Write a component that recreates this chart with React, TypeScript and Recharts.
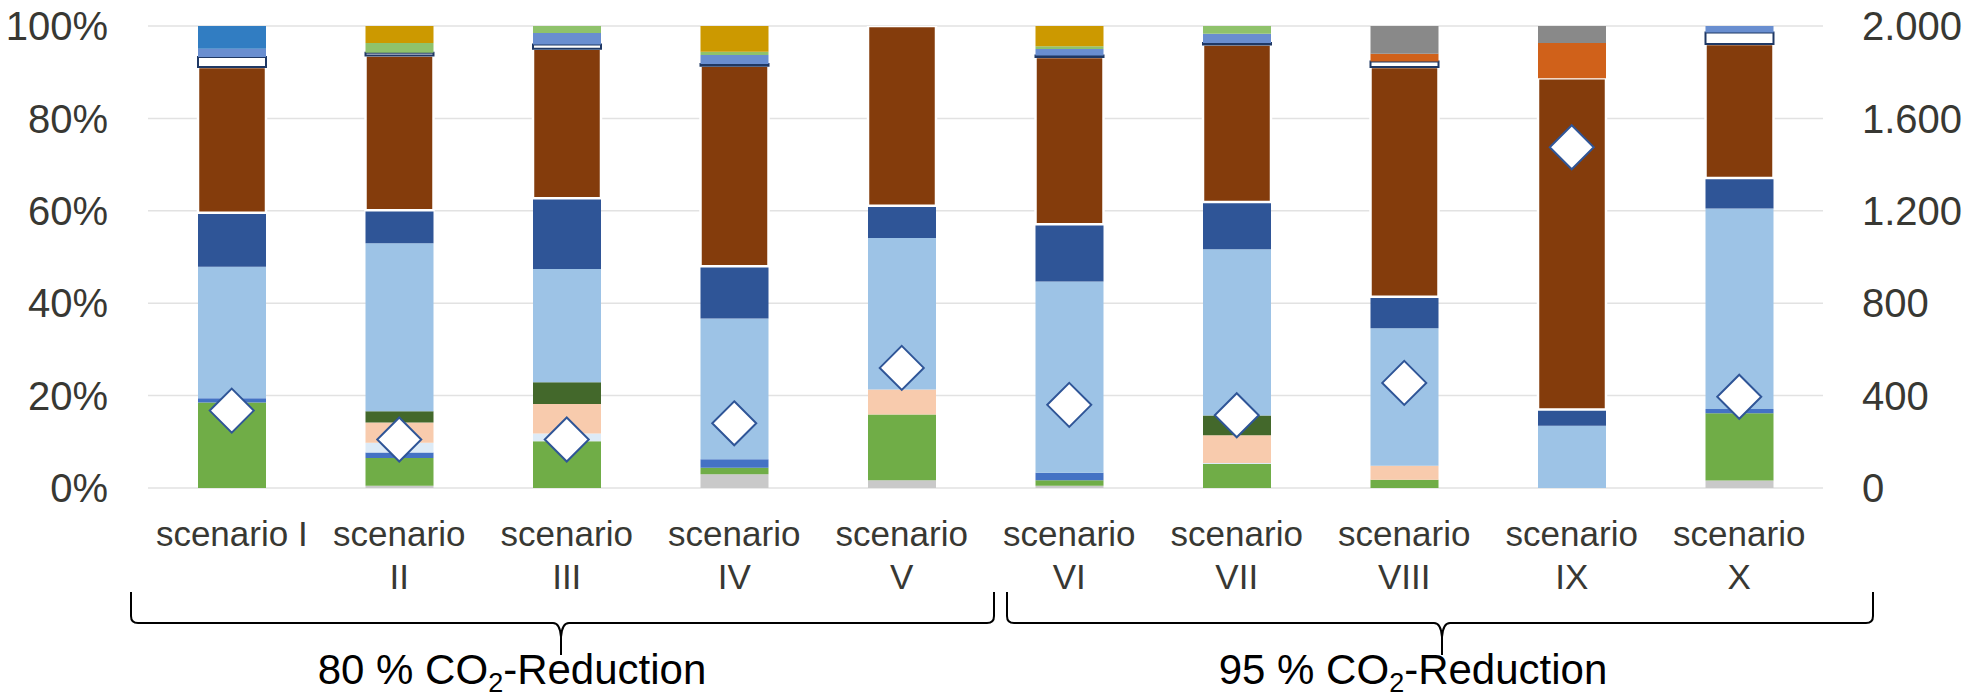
import React from 'react';
import { ComposedChart, Bar, Line, XAxis, YAxis, CartesianGrid } from 'recharts';

// Scenario names along the category axis
const scenarios = [
  'scenario I', 'scenario II', 'scenario III', 'scenario IV', 'scenario V',
  'scenario VI', 'scenario VII', 'scenario VIII', 'scenario IX', 'scenario X',
];

// Shares per scenario (percent of the stacked column), bottom to top
const greyShare = [0, 0.5, 0, 3.0, 1.7, 0.5, 0, 0, 0, 1.6];
const greenShare = [18.5, 6.0, 10.1, 1.4, 14.2, 1.2, 5.2, 1.8, 0, 14.6];
const blueShare = [0.9, 1.2, 0, 1.8, 0, 1.6, 0, 0, 0, 0.9];
const paleBlueShare = [0, 2.1, 1.7, 0, 0, 0, 0.2, 0, 0, 0];
const peachShare = [0, 4.4, 6.4, 0, 5.4, 0, 6.0, 3.0, 0, 0];
const darkGreenShare = [0, 2.4, 4.7, 0, 0, 0, 4.3, 0, 0, 0];
const lightBlueShare = [28.5, 36.4, 24.5, 30.5, 32.8, 41.4, 36.0, 29.8, 13.5, 43.4];
const navyShare = [11.7, 7.1, 15.3, 11.3, 7.0, 12.4, 10.2, 6.8, 3.5, 6.6];
const brownShare = [31.5, 33.5, 32.4, 43.4, 38.9, 36.2, 34.1, 49.7, 71.7, 29.0];
const whiteShare = [2.2, 0.6, 0.9, 0.4, 0, 0.3, 0.3, 1.2, 0, 2.5];
const midBlueShare = [1.8, 0, 2.5, 1.9, 0, 1.4, 2.0, 0, 0, 1.4];
const lightGreenShare = [0, 2.1, 1.5, 0.7, 0, 0.6, 1.7, 0, 0, 0];
const goldShare = [0, 3.7, 0, 5.6, 0, 4.4, 0, 0, 0, 0];
const orangeShare = [0, 0, 0, 0, 0, 0, 0, 1.7, 7.6, 0];
const darkGreyShare = [0, 0, 0, 0, 0, 0, 0, 6.0, 3.7, 0];
const brightBlueShare = [4.9, 0, 0, 0, 0, 0, 0, 0, 0, 0];

// Absolute totals shown as diamonds on the right axis
const totals = [335, 210, 210, 280, 520, 360, 315, 455, 1475, 395];

const leftTicks = [0, 20, 40, 60, 80, 100];
const rightTicks = [0, 400, 800, 1200, 1600, 2000];

const groups = [
  { label: '80 % CO', sub: '2', rest: '-Reduction' },
  { label: '95 % CO', sub: '2', rest: '-Reduction' },
];

const FONT = '"Liberation Sans", Arial, Helvetica, sans-serif';
const TEXT = '#383833';
const CAT_FONT_SIZE = 35;

const series = [
  { key: 'grey', values: greyShare, fill: '#C9C9C9' },
  { key: 'green', values: greenShare, fill: '#70AD47' },
  { key: 'blue', values: blueShare, fill: '#4472C4' },
  { key: 'paleBlue', values: paleBlueShare, fill: '#DDEBF7' },
  { key: 'peach', values: peachShare, fill: '#F8CBAD' },
  { key: 'darkGreen', values: darkGreenShare, fill: '#43682B' },
  { key: 'lightBlue', values: lightBlueShare, fill: '#9DC3E6' },
  { key: 'navy', values: navyShare, fill: '#2F5597' },
  { key: 'brown', values: brownShare, fill: '#843C0C', stroke: '#FFFFFF', strokeWidth: 2.5 },
  { key: 'white', values: whiteShare, fill: '#FFFFFF', stroke: '#1F3864', strokeWidth: 2 },
  { key: 'midBlue', values: midBlueShare, fill: '#698ED0' },
  { key: 'lightGreen', values: lightGreenShare, fill: '#8FC26B' },
  { key: 'gold', values: goldShare, fill: '#CC9900' },
  { key: 'orange', values: orangeShare, fill: '#D0611A' },
  { key: 'darkGrey', values: darkGreyShare, fill: '#898989' },
  { key: 'brightBlue', values: brightBlueShare, fill: '#317DC2' },
];

const rows = scenarios.map((name, i) => {
  const row: Record<string, any> = { name, total: totals[i] };
  series.forEach((s) => {
    row[s.key] = s.values[i];
  });
  return row;
});

const W = 1977;
const H = 700;
const LEFT_AXIS_W = 148;
const RIGHT_AXIS_W = 154;
const TOP = 26;
const X_AXIS_H = 212;
const PLOT_L = LEFT_AXIS_W;
const PLOT_R = W - RIGHT_AXIS_W;
const BAND = (PLOT_R - PLOT_L) / scenarios.length;
const LABEL_MAX_W = 158;

const formatThousands = (v: number) => String(v).replace(/\B(?=(\d{3})+(?!\d))/g, '.');

let measureCtx: CanvasRenderingContext2D | null = null;
const textWidth = (s: string) => {
  if (!measureCtx && typeof document !== 'undefined') {
    measureCtx = document.createElement('canvas').getContext('2d');
  }
  if (measureCtx) {
    measureCtx.font = `${CAT_FONT_SIZE}px ${FONT}`;
    return measureCtx.measureText(s).width;
  }
  return s.length * CAT_FONT_SIZE * 0.5;
};

// Greedy word wrap within the category band
const wrapLabel = (label: string) => {
  const words = label.split(' ');
  const lines: string[] = [];
  let cur = '';
  words.forEach((w) => {
    const next = cur ? `${cur} ${w}` : w;
    if (cur && textWidth(next) > LABEL_MAX_W) {
      lines.push(cur);
      cur = w;
    } else {
      cur = next;
    }
  });
  if (cur) lines.push(cur);
  return lines;
};

const CategoryTick = (props: any) => {
  const { x, y, payload } = props;
  const lines = wrapLabel(String(payload.value));
  return (
    <text
      x={x}
      y={y + 56}
      textAnchor="middle"
      fill={TEXT}
      fontSize={CAT_FONT_SIZE}
      fontFamily={FONT}
    >
      {lines.map((ln, i) => (
        <tspan key={i} x={x} dy={i === 0 ? 0 : 43}>
          {ln}
        </tspan>
      ))}
    </text>
  );
};

const Diamond = (props: any) => {
  const { cx, cy } = props;
  if (cx == null || cy == null) return null;
  const r = 22;
  return (
    <path
      key={`d-${cx}`}
      d={`M${cx},${cy - r}L${cx + r},${cy}L${cx},${cy + r}L${cx - r},${cy}Z`}
      fill="#FFFFFF"
      stroke="#2F5597"
      strokeWidth={2}
    />
  );
};

// Curly brace under a group of scenarios, tip pointing down
const bracePath = (x1: number, x2: number, xm: number) => {
  const y0 = 592;
  const y1 = 623;
  const tip = 655;
  const r = 7;
  return [
    `M${x1},${y0}`,
    `L${x1},${y1 - r}`,
    `Q${x1},${y1} ${x1 + r},${y1}`,
    `L${xm - 8},${y1}`,
    `Q${xm - 1},${y1} ${xm},${y1 + 14}`,
    `L${xm},${tip}`,
    `M${xm},${y1 + 14}`,
    `Q${xm + 1},${y1} ${xm + 8},${y1}`,
    `L${x2 - r},${y1}`,
    `Q${x2},${y1} ${x2},${y1 - r}`,
    `L${x2},${y0}`,
  ].join(' ');
};

const GroupBraces = () => {
  const specs = [
    { x1: PLOT_L - 17, x2: PLOT_L + 5 * BAND + 8.5, xm: 561, tx: 512 },
    { x1: PLOT_L + 5 * BAND + 21.5, x2: PLOT_R + 50, xm: 1442, tx: 1413 },
  ];
  return (
    <svg
      width={W}
      height={H}
      style={{ position: 'absolute', left: 0, top: 0, pointerEvents: 'none' }}
    >
      {groups.map((g, i) => {
        const s = specs[i];
        return (
          <g key={g.label + i}>
            <path d={bracePath(s.x1, s.x2, s.xm)} fill="none" stroke="#000000" strokeWidth={2} />
            <text x={s.tx} y={684} textAnchor="middle" fill="#000000" fontSize={42} fontFamily={FONT}>
              {g.label}
              <tspan fontSize={27} dy={8}>{g.sub}</tspan>
              <tspan dy={-8}>{g.rest}</tspan>
            </text>
          </g>
        );
      })}
    </svg>
  );
};

export default function App() {
  return (
    <div style={{ position: 'absolute', left: 0, top: 0, width: W, height: H, background: '#FFFFFF' }}>
      <ComposedChart
        width={W}
        height={H}
        data={rows}
        margin={{ top: TOP, right: 0, bottom: 0, left: 0 }}
      >
        <CartesianGrid yAxisId="left" vertical={false} stroke="#E2E2E2" strokeWidth={1.5} />
        <XAxis
          dataKey="name"
          type="category"
          height={X_AXIS_H}
          axisLine={false}
          tickLine={false}
          tickSize={0}
          interval={0}
          tick={<CategoryTick />}
        />
        <YAxis
          yAxisId="left"
          orientation="left"
          width={LEFT_AXIS_W}
          type="number"
          domain={[0, 100]}
          ticks={leftTicks}
          interval={0}
          allowDataOverflow
          tickFormatter={(v: number) => `${v}%`}
          axisLine={false}
          tickLine={false}
          tickSize={0}
          tickMargin={40}
          tick={{ fill: TEXT, fontSize: 40, fontFamily: FONT }}
        />
        <YAxis
          yAxisId="right"
          orientation="right"
          width={RIGHT_AXIS_W}
          type="number"
          domain={[0, 2000]}
          ticks={rightTicks}
          interval={0}
          allowDataOverflow
          tickFormatter={formatThousands}
          axisLine={false}
          tickLine={false}
          tickSize={0}
          tickMargin={39}
          tick={{ fill: TEXT, fontSize: 40, fontFamily: FONT, textAnchor: 'start' }}
        />
        {series.map((s) => (
          <Bar
            key={s.key}
            dataKey={s.key}
            stackId="mix"
            yAxisId="left"
            barSize={68}
            fill={s.fill}
            stroke={s.stroke}
            strokeWidth={s.strokeWidth}
            isAnimationActive={false}
          />
        ))}
        <Line
          dataKey="total"
          yAxisId="right"
          stroke="none"
          strokeWidth={0}
          dot={<Diamond />}
          activeDot={false}
          legendType="none"
          isAnimationActive={false}
        />
      </ComposedChart>
      <GroupBraces />
    </div>
  );
}
